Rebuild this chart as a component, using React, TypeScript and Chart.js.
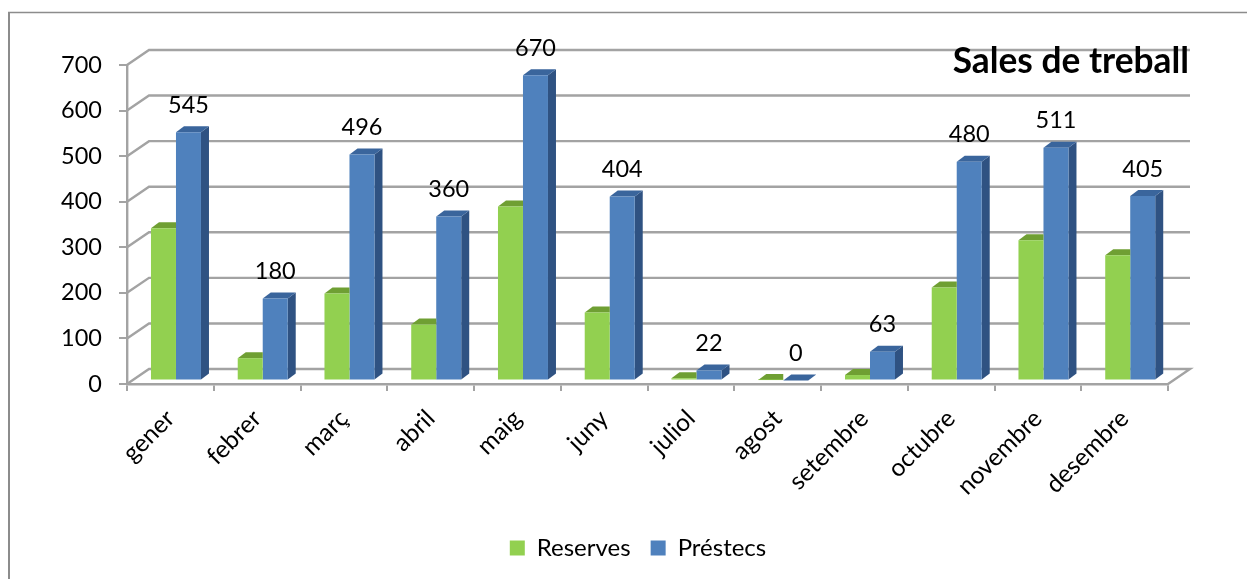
import React, { useEffect, useRef } from "react";
import { Chart, registerables } from "chart.js";

Chart.register(...registerables);

const months = ["gener", "febrer", "març", "abril", "maig", "juny", "juliol", "agost", "setembre", "octubre", "novembre", "desembre"];
const reserves = [334, 49, 191, 123, 382, 149, 5, 1, 12, 204, 308, 275];
const prestecs = [545, 180, 496, 360, 670, 404, 22, 0, 63, 480, 511, 405];
const yTicks = [0, 100, 200, 300, 400, 500, 600, 700];
const titleText = "Sales de treball";

const FONT = "Lato, Carlito, 'Open Sans', sans-serif";
const GRID = "#a3a3a3";
const WALL_DX = 22;
const WALL_DY = -15;
const PLANE_DX = 5.6;
const PLANE_DY = -3.5;
const BAR_DX = 8;
const BAR_DY = -6;
const FACES: Record<number, { top: string; side: string }> = {
  0: { top: "#6f9f33", side: "#5f8a2a" },
  1: { top: "#3a659c", side: "#2f5282" },
};

const scene3d = {
  id: "scene3d",
  afterLayout(chart: any) {
    const dx = 638 - (chart.legend.left + chart.legend.right) / 2;
    chart.legend.left += dx;
    chart.legend.right += dx;
  },
  beforeDraw(chart: any) {
    const { ctx, width, height } = chart;
    ctx.save();
    ctx.fillStyle = "#ffffff";
    ctx.fillRect(0, 0, width, height);
    ctx.strokeStyle = "#8c8c8c";
    ctx.lineWidth = 2;
    ctx.beginPath();
    ctx.moveTo(9, height);
    ctx.lineTo(9, 12.5);
    ctx.stroke();
    ctx.lineWidth = 1.5;
    ctx.beginPath();
    ctx.moveTo(8, 12.5);
    ctx.lineTo(width, 12.5);
    ctx.stroke();
    ctx.restore();
  },
  beforeDatasetsDraw(chart: any) {
    const { ctx, scales } = chart;
    const left = scales.x.left;
    const right = scales.x.right;
    ctx.save();
    ctx.strokeStyle = GRID;
    ctx.lineWidth = 2.4;
    ctx.lineJoin = "miter";
    yTicks.forEach((v) => {
      const y = scales.y.getPixelForValue(v);
      ctx.beginPath();
      ctx.moveTo(left, y);
      ctx.lineTo(left + WALL_DX, y + WALL_DY);
      ctx.lineTo(right + WALL_DX, y + WALL_DY);
      if (v === 0) {
        ctx.lineTo(right, y);
      }
      ctx.stroke();
    });
    ctx.restore();
    ctx.save();
    ctx.translate(PLANE_DX, PLANE_DY);
  },
  beforeDatasetDraw(chart: any, args: any) {
    const { ctx } = chart;
    const faces = FACES[args.index];
    const isFront = args.index === 0;
    args.meta.data.forEach((bar: any) => {
      const p = bar.getProps(["x", "y", "base", "width"], true);
      const l = p.x - p.width / 2;
      const r = p.x + p.width / 2;
      if (!isFront) {
        ctx.fillStyle = faces.side;
        ctx.beginPath();
        ctx.moveTo(r, p.y);
        ctx.lineTo(r + BAR_DX, p.y + BAR_DY);
        ctx.lineTo(r + BAR_DX, p.base + BAR_DY);
        ctx.lineTo(r, p.base);
        ctx.closePath();
        ctx.fill();
      }
      ctx.fillStyle = faces.top;
      ctx.beginPath();
      ctx.moveTo(l, p.y);
      ctx.lineTo(l + BAR_DX, p.y + BAR_DY);
      ctx.lineTo(isFront ? r : r + BAR_DX, p.y + BAR_DY);
      ctx.lineTo(r, p.y);
      ctx.closePath();
      ctx.fill();
    });
  },
  afterDatasetsDraw(chart: any) {
    const { ctx } = chart;
    const meta = chart.getDatasetMeta(1);
    ctx.fillStyle = "#000000";
    ctx.font = `23.5px ${FONT}`;
    ctx.textAlign = "center";
    ctx.textBaseline = "middle";
    meta.data.forEach((bar: any, i: number) => {
      ctx.fillText(String(prestecs[i]), bar.x, bar.y - 27);
    });
    ctx.restore();
    ctx.save();
    ctx.fillStyle = "#000000";
    ctx.font = `bold 35.3px ${FONT}`;
    ctx.textAlign = "right";
    ctx.textBaseline = "middle";
    ctx.fillText(titleText, 1189, 62);
    ctx.restore();
  },
};

export default function App() {
  const ref = useRef<HTMLCanvasElement>(null);
  useEffect(() => {
    document.body.style.margin = "0";
    const chart = new Chart(ref.current as HTMLCanvasElement, {
      type: "bar",
      data: {
        labels: months,
        datasets: [
          { label: "Reserves", data: reserves, backgroundColor: "#92d050", clip: false } as any,
          { label: "Préstecs", data: prestecs, backgroundColor: "#4f81bd", clip: false } as any,
        ],
      },
      options: {
        animation: false,
        responsive: false,
        devicePixelRatio: 1,
        layout: { padding: { left: 0, right: 79, top: 65, bottom: 9 } },
        datasets: { bar: { categoryPercentage: 0.5764, barPercentage: 1 } },
        scales: {
          x: {
            afterFit: (s: any) => { s.height = 132; },
            grid: { drawOnChartArea: false, drawTicks: true, tickLength: 7, color: GRID, lineWidth: 2 },
            border: { display: true, color: GRID, width: 2.4 },
            ticks: {
              color: "#000000",
              font: { family: FONT, size: 24.5 },
              minRotation: 45,
              maxRotation: 45,
              padding: 13,
              autoSkip: false,
            },
          },
          y: {
            min: 0,
            max: 700,
            afterFit: (s: any) => { s.width = 127; },
            afterBuildTicks: (s: any) => { s.ticks = yTicks.map((value) => ({ value })); },
            grid: { drawOnChartArea: false, drawTicks: true, tickLength: 8, color: GRID, lineWidth: 2 },
            border: { display: true, color: GRID, width: 2.4 },
            ticks: { color: "#000000", font: { family: FONT, size: 23.5 }, padding: 17 },
          },
        },
        plugins: {
          title: { display: false },
          tooltip: { enabled: false },
          legend: {
            position: "bottom",
            labels: {
              color: "#000000",
              font: { family: FONT, size: 24 },
              boxWidth: 15,
              boxHeight: 15,
              padding: 20,
            },
          },
        },
      },
      plugins: [scene3d],
    } as any);
    return () => chart.destroy();
  }, []);
  return <canvas ref={ref} width={1247} height={579} style={{ display: "block", width: 1247, height: 579 }} />;
}
